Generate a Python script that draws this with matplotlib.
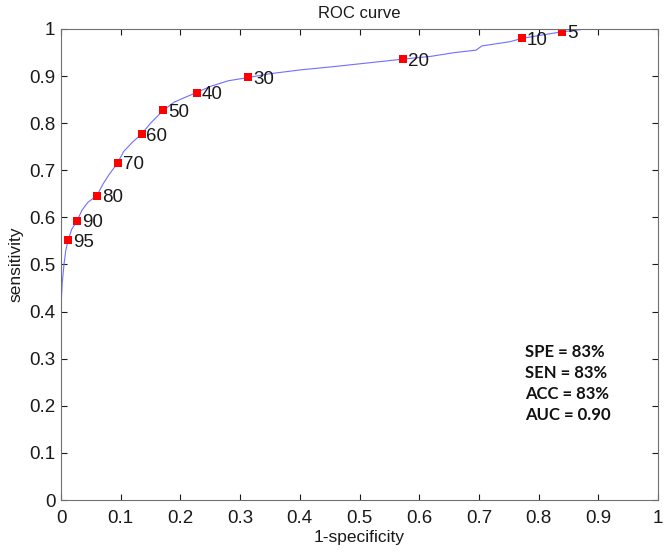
import numpy as np
import matplotlib
matplotlib.use('Agg')
import matplotlib.pyplot as plt

plt.rcParams['font.family'] = ['Liberation Sans', 'DejaVu Sans']

# ROC curve
fpr = [0, 0, 0.002, 0.005, 0.008, 0.012, 0.018, 0.027, 0.035, 0.045, 0.060,
       0.070, 0.080, 0.095, 0.105, 0.120, 0.135, 0.150, 0.171, 0.190, 0.210,
       0.227, 0.250, 0.280, 0.314, 0.350, 0.400, 0.456, 0.500, 0.573, 0.620,
       0.660, 0.695, 0.705, 0.752, 0.772, 0.800, 0.839, 0.860, 0.879, 1.0]
tpr = [0, 0.41, 0.46, 0.50, 0.53, 0.552, 0.575, 0.593, 0.615, 0.632, 0.646,
       0.670, 0.690, 0.716, 0.740, 0.760, 0.777, 0.800, 0.827, 0.845, 0.856,
       0.865, 0.878, 0.890, 0.897, 0.905, 0.913, 0.920, 0.926, 0.936, 0.942,
       0.950, 0.955, 0.964, 0.973, 0.980, 0.986, 0.994, 0.997, 1.0, 1.0]

# threshold markers
thr_labels = ['95', '90', '80', '70', '60', '50', '40', '30', '20', '10', '5']
thr_fpr = [0.012, 0.027, 0.060, 0.095, 0.135, 0.171, 0.227, 0.314, 0.573, 0.772, 0.839]
thr_tpr = [0.552, 0.593, 0.646, 0.716, 0.777, 0.827, 0.865, 0.897, 0.936, 0.980, 0.994]

stats = ['SPE = 83%', 'SEN = 83%', 'ACC = 83%', 'AUC = 0.90']

fig = plt.figure(figsize=(6.66, 5.53), dpi=100)
ax = fig.add_axes([0.0916, 0.0958, 0.8964, 0.8518])

ax.plot(fpr, tpr, color='#6f6fff', linewidth=0.8)
ax.plot(thr_fpr, thr_tpr, 's', color='#ff0000', markersize=5.5, markeredgewidth=0)
for x, y, s in zip(thr_fpr, thr_tpr, thr_labels):
    ax.annotate(s, (x, y), xytext=(3.5, -1.5), textcoords='offset points',
                ha='left', va='center', fontsize=13.5, color='#1a1a1a')

for i, s in enumerate(stats):
    ax.text(0.778, 0.315 - i * 0.045, s, transform=ax.transData,
            fontsize=12, fontweight='bold', family=['Lato', 'DejaVu Sans'],
            va='center', ha='left', color='#111111')

ax.set_xlim(0, 1)
ax.set_ylim(0, 1)
ticks = np.arange(0, 1.01, 0.1)
ax.set_xticks(ticks)
ax.set_yticks(ticks)
ax.set_xticklabels(['0', '0.1', '0.2', '0.3', '0.4', '0.5', '0.6', '0.7', '0.8', '0.9', '1'])
ax.set_yticklabels(['0', '0.1', '0.2', '0.3', '0.4', '0.5', '0.6', '0.7', '0.8', '0.9', '1'])
ax.tick_params(direction='in', top=True, right=True, length=4, width=0.8,
               labelsize=13.5, colors='#1a1a1a')
ax.tick_params(axis='x', pad=7)
ax.tick_params(axis='y', pad=4)
for sp in ax.spines.values():
    sp.set_color('#707070')
    sp.set_linewidth(0.8)

ax.set_title('ROC curve', fontsize=12, pad=8, color='#1a1a1a')
ax.set_xlabel('1-specificity', fontsize=12.5, labelpad=2, color='#1a1a1a')
ax.set_ylabel('sensitivity', fontsize=12.5, labelpad=4, color='#1a1a1a')

fig.savefig('out.png', dpi=100)
